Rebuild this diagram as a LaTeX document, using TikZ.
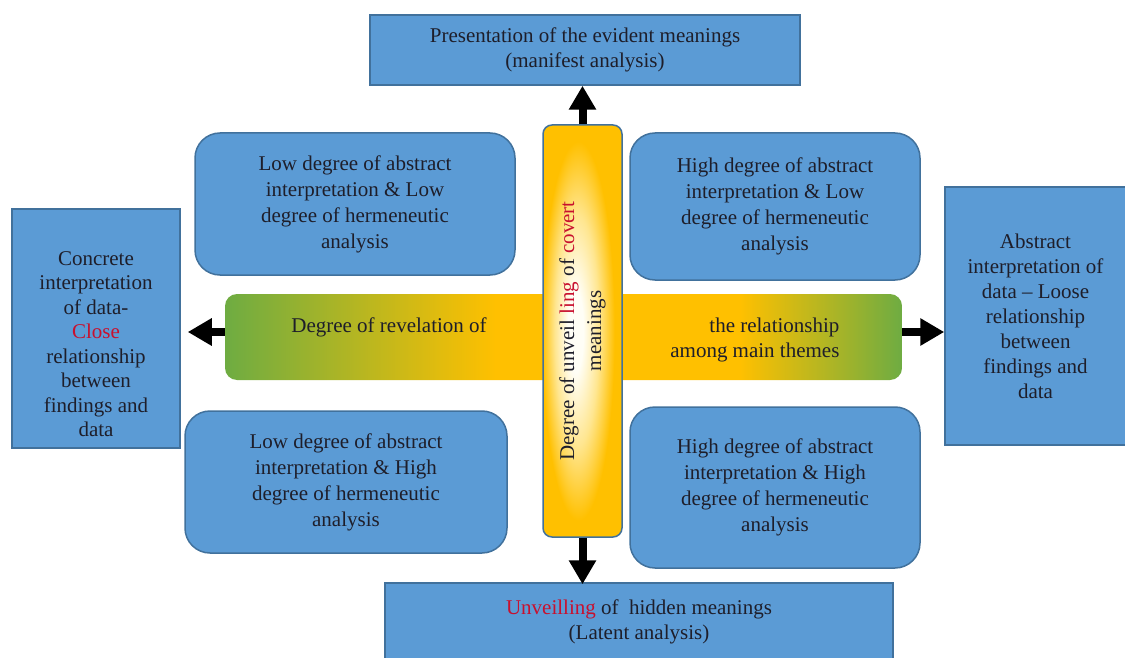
\documentclass[tikz,border=0pt]{standalone}
\usepackage{fontspec}
\setmainfont{Liberation Serif}
\usetikzlibrary{arrows.meta,shadings}

\definecolor{boxblue}{HTML}{5B9BD5}
\definecolor{boxedge}{HTML}{41719C}
\definecolor{gold}{HTML}{FFC000}
\definecolor{goldpale}{HTML}{FFE690}
\definecolor{leafgreen}{HTML}{6EAC42}
\definecolor{glowwhite}{HTML}{FFFEF6}
\definecolor{accent}{HTML}{C8102E}
\definecolor{ink}{HTML}{1E1E2A}

\pgfdeclareradialshading{barglow}{\pgfpoint{-5bp}{0bp}}{color(0bp)=(glowwhite); color(5bp)=(glowwhite); color(14bp)=(goldpale); color(23bp)=(gold); color(50bp)=(gold)}
\pgfdeclarehorizontalshading{revealbar}{100bp}{color(0bp)=(leafgreen); color(25bp)=(leafgreen); color(45bp)=(gold); color(63bp)=(gold); color(75bp)=(leafgreen); color(100bp)=(leafgreen)}

\begin{document}
\begin{tikzpicture}[
    x=1pt, y=-1pt,
    outcome/.style={
      rectangle,
      fill=boxblue,
      draw=boxedge,
      line width=1.5pt,
      text=ink,
      align=center,
      font=\fontsize{21}{25}\selectfont
    },
    quadrant/.style={
      outcome,
      rounded corners=25pt,
      font=\fontsize{21}{26}\selectfont
    },
    bartext/.style={
      text=ink,
      font=\fontsize{21}{25}\selectfont
    },
    arrow/.style={
      -{Triangle[length=24pt,width=26pt]},
      line width=8pt,
      draw=black
    }
  ]
    \useasboundingbox (0,0) rectangle (1125,658);

    % Top and bottom: manifest and latent analysis
    \node (manifest) [outcome, minimum width=430pt, minimum height=70pt] at (585,50)
      {Presentation of the evident meanings\\(manifest analysis)};
    \node (latent) [outcome, minimum width=508pt, minimum height=77pt] at (639,621.5)
      {\textcolor{accent}{Unveilling} of\ \ hidden meanings\\(Latent analysis)};

    % Left and right: concrete and abstract interpretation
    \node (concrete) [outcome, minimum width=168pt, minimum height=239pt] at (96,328.5) {};
    \node (concretetext) [bartext, align=center, font=\fontsize{21}{24.5}\selectfont] at (96,344)
      {Concrete\\interpretation\\of data-\\\textcolor{accent}{Close}\\relationship\\between\\findings and\\data};
    \node (abstract) [outcome, minimum width=181pt, minimum height=258pt] at (1035.5,316)
      {Abstract\\interpretation of\\data -- Loose\\relationship\\between\\findings and\\data};

    % Four quadrants
    \node (lowlow) [quadrant, minimum width=320pt, minimum height=142pt] at (355,204)
      {Low degree of abstract\\interpretation \& Low\\degree of hermeneutic\\analysis};
    \node (highlow) [quadrant, minimum width=290pt, minimum height=147pt] at (775,206.5)
      {High degree of abstract\\interpretation \& Low\\degree of hermeneutic\\analysis};
    \node (lowhigh) [quadrant, minimum width=322pt, minimum height=142pt] at (346,482)
      {Low degree of abstract\\interpretation \& High\\degree of hermeneutic\\analysis};
    \node (highhigh) [quadrant, minimum width=290pt, minimum height=161pt] at (775,487.5)
      {High degree of abstract\\interpretation \& High\\degree of hermeneutic\\analysis};

    % Horizontal bar: degree of revelation
    \node (reveal) [rectangle, rounded corners=12pt, shading=revealbar,
      minimum width=677pt, minimum height=86pt] at (563.5,337) {};
    \node (revleft) [bartext] at (389,327) {Degree of revelation of};
    \node (revright) [bartext, align=right, anchor=east] at (843,340)
      {the relationship\\among main themes};

    % Vertical bar: degree of unveilling
    \node (unveil) [rectangle, rounded corners=9pt, shading=barglow, draw=boxedge,
      line width=1.5pt, rotate=90, minimum width=412pt, minimum height=79pt,
      align=center, text=ink, font=\fontsize{21}{27}\selectfont] at (582.5,331)
      {Degree of unveil \textcolor{accent}{ling} of \textcolor{accent}{covert}\\meanings};

    % Arrows
    \draw [arrow] (unveil.east) -- (unveil.east |- manifest.south);
    \draw [arrow] (unveil.west) -- ([yshift=-2pt]unveil.west |- latent.north);
    \draw [arrow, shorten >=7pt] ([yshift=5pt]reveal.west) -- ([yshift=5pt]reveal.west -| concrete.east);
    \draw [arrow] ([yshift=5pt]reveal.east) -- ([yshift=5pt]reveal.east -| abstract.west);

  \end{tikzpicture}
\end{document}
